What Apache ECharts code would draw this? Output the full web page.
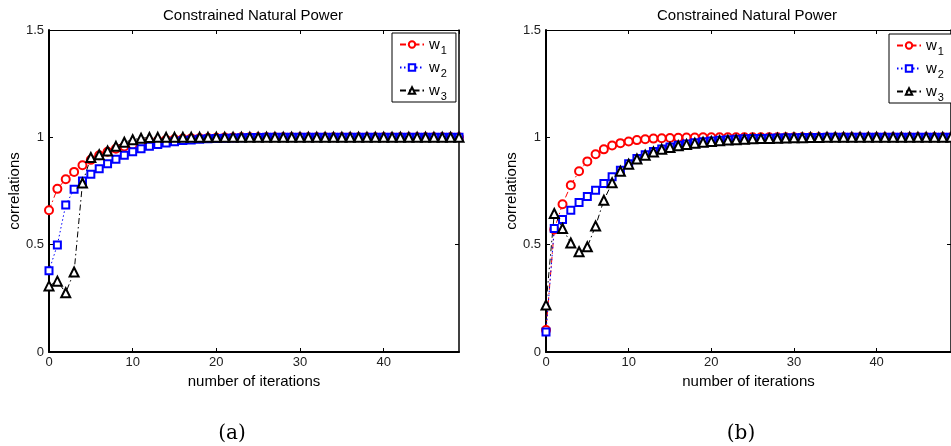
<!DOCTYPE html>
<html>
<head>
<meta charset="utf-8">
<script src="https://cdn.jsdelivr.net/npm/echarts@6/dist/echarts.min.js"></script>
<style>
html,body{margin:0;padding:0;background:#fff;}
#chart{width:951px;height:446px;}
</style>
</head>
<body>
<div id="chart"></div>
<script>
// ---- data ----
const seriesNames = ['w1', 'w2', 'w3'];
const xTicks = [0, 10, 20, 30, 40];
const yTicks = [0, 0.5, 1, 1.5];

// (a)
const w1a = [0.660,0.760,0.805,0.839,0.870,0.895,0.916,0.933,0.947,0.957,0.966,0.973,0.979,0.984,0.988,0.991,0.993,0.995,0.996,0.997,0.998,0.999,0.999,1,1,1,1,1,1,1,1,1,1,1,1,1,1,1,1,1,1,1,1,1,1,1,1,1,1,1];
const w2a = [0.378,0.499,0.685,0.758,0.797,0.828,0.854,0.877,0.898,0.916,0.933,0.947,0.958,0.967,0.974,0.980,0.985,0.988,0.991,0.993,0.995,0.996,0.997,0.998,0.999,0.999,1,1,1,1,1,1,1,1,1,1,1,1,1,1,1,1,1,1,1,1,1,1,1,1];
const w3a = [0.308,0.330,0.276,0.373,0.787,0.906,0.919,0.936,0.958,0.977,0.989,0.996,0.999,1,1,1,1,1,1,1,1,1,1,1,1,1,1,1,1,1,1,1,1,1,1,1,1,1,1,1,1,1,1,1,1,1,1,1,1,1];

// (b)
const w1b = [0.102,0.571,0.688,0.777,0.842,0.888,0.921,0.944,0.962,0.973,0.981,0.987,0.991,0.994,0.996,0.997,0.998,0.999,0.999,1,1,1,1,1,1,1,1,1,1,1,1,1,1,1,1,1,1,1,1,1,1,1,1,1,1,1,1,1,1,1];
const w2b = [0.093,0.575,0.617,0.660,0.696,0.724,0.753,0.785,0.816,0.847,0.877,0.901,0.919,0.934,0.946,0.955,0.963,0.969,0.975,0.979,0.983,0.986,0.989,0.991,0.993,0.994,0.995,0.996,0.997,0.998,0.998,0.999,0.999,0.999,1,1,1,1,1,1,1,1,1,1,1,1,1,1,1,1];
const w3b = [0.219,0.645,0.575,0.508,0.467,0.490,0.587,0.707,0.788,0.842,0.875,0.899,0.917,0.932,0.944,0.953,0.961,0.967,0.973,0.977,0.981,0.984,0.987,0.989,0.991,0.993,0.994,0.995,0.996,0.997,0.998,0.998,0.999,0.999,1,1,1,1,1,1,1,1,1,1,1,1,1,1,1,1];

const titleText = 'Constrained Natural Power';
const xName = 'number of iterations';
const yName = 'correlations';
const captions = ['(a)', '(b)'];

// ---- styling ----
const FONT = 'Liberation Sans, Arial, Helvetica, sans-serif';
const SERIF = 'DejaVu Serif, Liberation Serif, serif';
const styles = {
  w1: {symbol: 'emptyCircle', symbolSize: 8, color: '#ff0000', line: [6, 3, 1.5, 3]},
  w2: {symbol: 'emptyRect', symbolSize: 7, color: '#0000ff', line: [1.5, 2.5]},
  w3: {symbol: 'emptyTriangle', symbolSize: 9, color: '#000000', line: [6, 3, 1.5, 3]}
};

function toPairs(arr) { return arr.map((v, i) => [i, v]); }

function mkSeries(name, arr, idx) {
  const s = styles[name];
  return {
    type: 'line', name: name, xAxisIndex: idx * 2, yAxisIndex: idx * 2,
    data: toPairs(arr), symbol: s.symbol, symbolSize: s.symbolSize,
    showAllSymbol: true, animation: false,
    itemStyle: {color: s.color, borderWidth: 1.8},
    lineStyle: {color: s.color, width: 1, type: s.line}
  };
}

function xAxes(gridIndex) {
  return [{
    type: 'value', gridIndex: gridIndex, position: 'bottom', min: 0, max: 49, interval: 10,
    name: xName, nameLocation: 'middle', nameGap: 17,
    nameTextStyle: {fontFamily: FONT, fontSize: 15, color: '#000'},
    axisLine: {show: true, lineStyle: {color: '#000', width: 2}},
    axisTick: {show: true, inside: true, length: 4, lineStyle: {color: '#000', width: 1}},
    axisLabel: {show: true, showMaxLabel: false, margin: 4, fontFamily: FONT, fontSize: 13, color: '#222'},
    splitLine: {show: false}
  }, {
    type: 'value', gridIndex: gridIndex, position: 'top', min: 0, max: 49, interval: 10,
    axisLine: {show: true, onZero: false, lineStyle: {color: '#000', width: 1}},
    axisTick: {show: true, inside: true, length: 4, lineStyle: {color: '#000', width: 1}},
    axisLabel: {show: false}, splitLine: {show: false}
  }];
}
function yAxes(gridIndex) {
  return [{
    type: 'value', gridIndex: gridIndex, position: 'left', min: 0, max: 1.5, interval: 0.5,
    name: yName, nameLocation: 'middle', nameGap: 27,
    nameTextStyle: {fontFamily: FONT, fontSize: 15, color: '#000'},
    axisLine: {show: true, lineStyle: {color: '#000', width: 2}},
    axisTick: {show: true, inside: true, length: 4, lineStyle: {color: '#000', width: 1}},
    axisLabel: {show: true, margin: 5, fontFamily: FONT, fontSize: 13, color: '#222',
      formatter: v => String(v)},
    splitLine: {show: false}
  }, {
    type: 'value', gridIndex: gridIndex, position: 'right', min: 0, max: 1.5, interval: 0.5,
    axisLine: {show: true, onZero: false, lineStyle: {color: '#000', width: 1.5}},
    axisTick: {show: true, inside: true, length: 4, lineStyle: {color: '#000', width: 1}},
    axisLabel: {show: false}, splitLine: {show: false}
  }];
}

function legend(left, top) {
  return {
    orient: 'vertical', left: left, top: top, data: seriesNames,
    backgroundColor: '#fff', borderColor: '#000', borderWidth: 1, borderRadius: 0,
    padding: [0, 9, 0, 7], itemWidth: 24, itemHeight: 8, itemGap: 0,
    selectedMode: false,
    formatter: n => '{w|w}{s|' + n.slice(1) + '}',
    textStyle: {
      fontFamily: FONT, color: '#000',
      rich: {
        w: {fontFamily: FONT, fontSize: 15, lineHeight: 12, padding: [3, 1, 3, 0]},
        s: {fontFamily: FONT, fontSize: 11, lineHeight: 6, padding: [12, 0, 0, 0]}
      }
    }
  };
}

const chart = echarts.init(document.getElementById('chart'), null, {renderer: 'canvas'});
chart.setOption({
  animation: false,
  backgroundColor: '#fff',
  title: [
    {text: titleText, left: 248, top: 3, textAlign: 'center',
     textStyle: {fontFamily: FONT, fontSize: 15, fontWeight: 'normal', color: '#000'}},
    {text: titleText, left: 742, top: 3, textAlign: 'center',
     textStyle: {fontFamily: FONT, fontSize: 15, fontWeight: 'normal', color: '#000'}},
    {text: captions[0], left: 227, top: 419, textAlign: 'center',
     textStyle: {fontFamily: SERIF, fontSize: 20, fontWeight: 'normal', color: '#000'}},
    {text: captions[1], left: 736, top: 419, textAlign: 'center',
     textStyle: {fontFamily: SERIF, fontSize: 20, fontWeight: 'normal', color: '#000'}}
  ],
  legend: [legend(392, 33), legend(889, 34)],
  grid: [
    {left: 49, top: 30, width: 410, height: 322, containLabel: false},
    {left: 546, top: 30, width: 409, height: 322, containLabel: false}
  ],
  xAxis: [...xAxes(0), ...xAxes(1)],
  yAxis: [...yAxes(0), ...yAxes(1)],
  series: [
    mkSeries('w1', w1a, 0), mkSeries('w2', w2a, 0), mkSeries('w3', w3a, 0),
    mkSeries('w1', w1b, 1), mkSeries('w2', w2b, 1), mkSeries('w3', w3b, 1)
  ]
});
</script>
</body>
</html>
